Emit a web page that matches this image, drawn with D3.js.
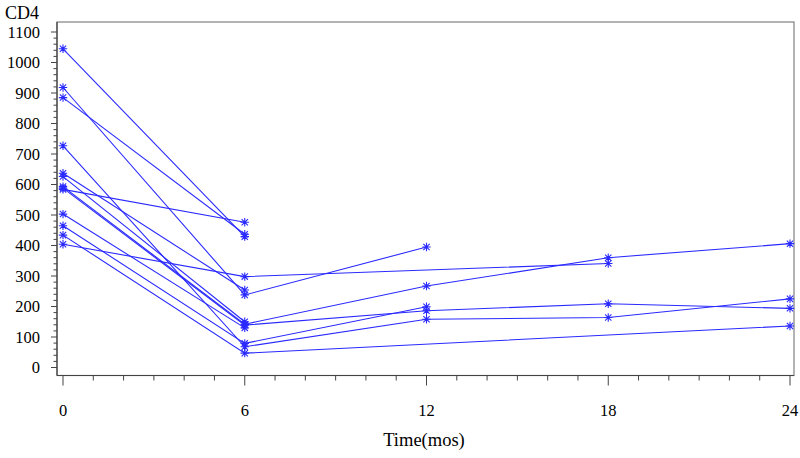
<!DOCTYPE html>
<html><head><meta charset="utf-8">
<script src="https://cdn.jsdelivr.net/npm/d3@7"></script>
<style>body{margin:0;background:#fff}svg{display:block}text{font-family:'Liberation Serif','Times New Roman',serif}</style>
</head><body><svg id="c" width="800" height="458"></svg>
<script>
// Subjects' CD4 counts over time (months)
const times = [0, 6, 12, 18, 24];
const xTicks = [0, 6, 12, 18, 24];
const yTicks = [0,100,200,300,400,500,600,700,800,900,1000,1100];
const s01 = [[0,1045],[6,429]];
const s02 = [[0,918],[6,238],[12,395]];
const s03 = [[0,885],[6,437]];
const s04 = [[0,727],[6,68],[12,158],[18,164],[24,225]];
const s05 = [[0,637],[6,254]];
const s06 = [[0,626],[6,150]];
const s07 = [[0,593],[6,142],[12,267],[18,360],[24,406]];
const s08 = [[0,588],[6,139],[12,186],[18,209],[24,194]];
const s09 = [[0,584],[6,476]];
const s10 = [[0,503],[6,130]];
const s11 = [[0,465],[6,79],[12,199]];
const s12 = [[0,434],[6,47],[24,136]];
const s13 = [[0,404],[6,298],[18,341]];
const subjects = [s01,s02,s03,s04,s05,s06,s07,s08,s09,s10,s11,s12,s13];

const svg = d3.select("#c");
const L = 57, R = 794, T = 22, B = 375.5;
const x = d3.scaleLinear().domain([0,24]).range([63,790]);
const y = d3.scaleLinear().domain([0,1100]).range([367.5,32]);
const font = "'Liberation Serif','Times New Roman',serif";

// frame
svg.append("rect").attr("x",L).attr("y",T).attr("width",R-L).attr("height",B-T)
  .attr("fill","none").attr("stroke","#808080").attr("stroke-width",1.2);

// y axis
const yMinor = d3.range(0,1101,20).filter(v=>v%100!==0);
const ya = svg.append("g").attr("transform",`translate(${L},0)`);
ya.append("line").attr("x1",0).attr("x2",0).attr("y1",T).attr("y2",B).attr("stroke","#444").attr("stroke-width",1.2);
ya.selectAll(".ymaj").data(yTicks).join("line").attr("x1",-6).attr("x2",0)
  .attr("y1",d=>y(d)).attr("y2",d=>y(d)).attr("stroke","#444");
ya.selectAll(".ymin").data(yMinor).join("line").attr("x1",-3.5).attr("x2",0)
  .attr("y1",d=>y(d)).attr("y2",d=>y(d)).attr("stroke","#444");
ya.selectAll("text").data(yTicks).join("text").attr("x",-17).attr("y",d=>y(d)+5.5)
  .attr("text-anchor","end").style("font-family",font).attr("font-size",16.5).attr("fill","#000").text(d=>d);

// x axis
const xMinor = d3.range(0,25,1).filter(v=>v%6!==0);
const xa = svg.append("g").attr("transform",`translate(0,${B})`);
xa.append("line").attr("x1",L).attr("x2",R).attr("y1",0).attr("y2",0).attr("stroke","#444").attr("stroke-width",1.2);
xa.selectAll(".xmaj").data(xTicks).join("line").attr("x1",d=>x(d)).attr("x2",d=>x(d))
  .attr("y1",0).attr("y2",10).attr("stroke","#444");
xa.selectAll(".xmin").data(xMinor).join("line").attr("x1",d=>x(d)).attr("x2",d=>x(d))
  .attr("y1",0).attr("y2",5).attr("stroke","#444");
xa.selectAll("text").data(xTicks).join("text").attr("x",d=>x(d)).attr("y",40)
  .attr("text-anchor","middle").style("font-family",font).attr("font-size",16.5).attr("fill","#000").text(d=>d);

// titles
svg.append("text").attr("x",5).attr("y",18.5).style("font-family",font).attr("font-size",18).text("CD4");
svg.append("text").attr("x",424).attr("y",446).attr("text-anchor","middle")
  .style("font-family",font).attr("font-size",18.5).text("Time(mos)");

// lines
const line = d3.line().x(d=>x(d[0])).y(d=>y(d[1]));
const g = svg.append("g");
g.selectAll("path").data(subjects).join("path").attr("d",line)
  .attr("fill","none").attr("stroke","#2a2aff").attr("stroke-width",1.1);

// star markers
const pts = subjects.flat();
const r = 4.2, rd = r*0.75;
const mk = g.selectAll(".m").data(pts).join("g")
  .attr("transform",d=>`translate(${x(d[0])},${y(d[1])})`);
mk.append("path").attr("d",`M${-r},0H${r}M0,${-r}V${r}M${-rd},${-rd}L${rd},${rd}M${-rd},${rd}L${rd},${-rd}`)
  .attr("stroke","#2a2aff").attr("stroke-width",1.1).attr("fill","none");
</script></body></html>
